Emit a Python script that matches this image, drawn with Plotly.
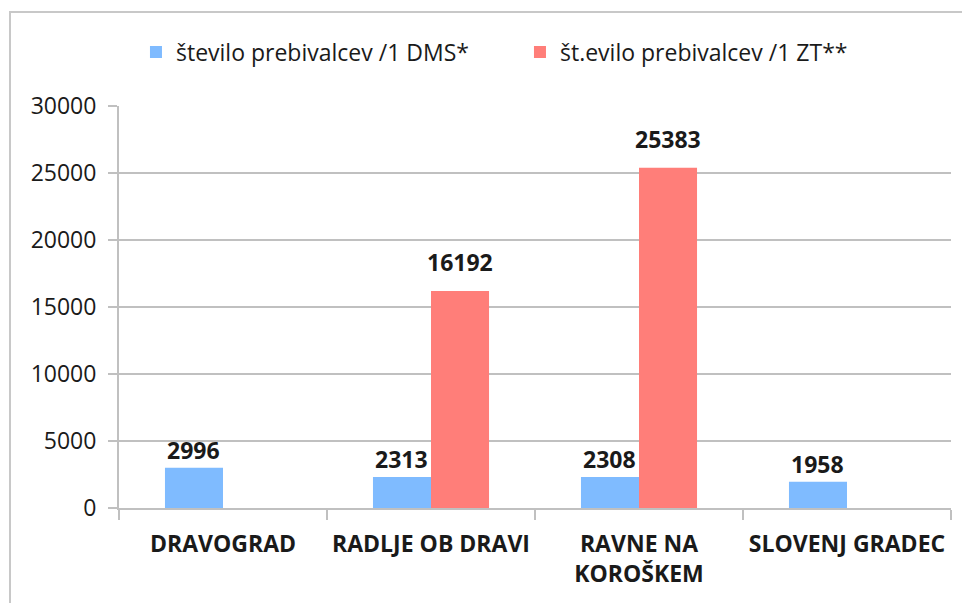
import plotly.graph_objects as go

categories = ["DRAVOGRAD", "RADLJE OB DRAVI", "RAVNE NA<br>KOROŠKEM", "SLOVENJ GRADEC"]
series_names = ["število prebivalcev /1 DMS*", "št.evilo prebivalcev /1 ZT**"]
dms_values = [2996, 2313, 2308, 1958]
zt_values = [None, 16192, 25383, None]
y_ticks = [0, 5000, 10000, 15000, 20000, 25000, 30000]
y_tick_labels = ["0", "5000", "10000", "15000", "20000", "25000", "30000"]

blue = "#7FBBFF"
red = "#FF7E79"
text_col = "#1a1a1a"
grid_col = "#c0c0c0"

W, H = 962, 595
ML, MR, MT, MB = 111, 19, 98, 95
BARGAP = 0.442

fig = go.Figure()
series = [(series_names[0], dms_values, blue, -1, 0), (series_names[1], zt_values, red, 1, 11)]
for name, vals, col, side, lift in series:
    fig.add_trace(go.Bar(
        x=categories, y=vals, name=name,
        marker=dict(color=col, line=dict(width=0)),
    ))

# data labels placed over the bars
cat_w = (W - ML - MR) / len(categories)
bar_w = cat_w * (1 - BARGAP) / 2
for name, vals, col, side, lift in series:
    for c, v in zip(categories, vals):
        if v is None:
            continue
        fig.add_annotation(
            x=c, y=v, xref="x", yref="y", text=str(v), showarrow=False,
            xshift=side * bar_w / 2, yshift=lift, yanchor="bottom",
            font=dict(family="Open Sans", size=23, color=text_col, weight="bold"),
        )

fig.update_layout(
    width=W, height=H,
    margin=dict(l=ML, r=MR, t=MT, b=MB, autoexpand=False),
    paper_bgcolor="white", plot_bgcolor="white",
    barmode="group", bargap=BARGAP, bargroupgap=0,
    showlegend=True,
    legend=dict(orientation="h", x=0.0204, xanchor="left", y=1.134, yanchor="middle",
                font=dict(family="Open Sans", size=23, color=text_col),
                itemwidth=30, entrywidth=339, entrywidthmode="pixels",
                bgcolor="rgba(0,0,0,0)"),
    xaxis=dict(
        tickfont=dict(family="Open Sans", size=23, color=text_col, weight="bold"),
        showline=True, linecolor=grid_col, linewidth=2,
        ticks="outside", tickson="boundaries", ticklen=10, tickcolor=grid_col, tickwidth=2,
        ticklabelstandoff=14,
        showgrid=False,
    ),
    yaxis=dict(
        range=[0, 30000], tickvals=y_ticks, ticktext=y_tick_labels,
        tickfont=dict(family="Open Sans", size=23, color=text_col),
        showline=True, linecolor=grid_col, linewidth=2,
        ticks="outside", ticklen=9, tickcolor=grid_col, tickwidth=2,
        ticklabelstandoff=7,
        showgrid=True, gridcolor=grid_col, gridwidth=2,
        zeroline=False,
    ),
    shapes=[dict(type="rect", xref="paper", yref="paper",
                 x0=-0.131, x1=1.2, y0=-0.6, y1=1.2338,
                 line=dict(color="#c8c8c8", width=2), layer="below")],
)

fig.write_html("out.html")
